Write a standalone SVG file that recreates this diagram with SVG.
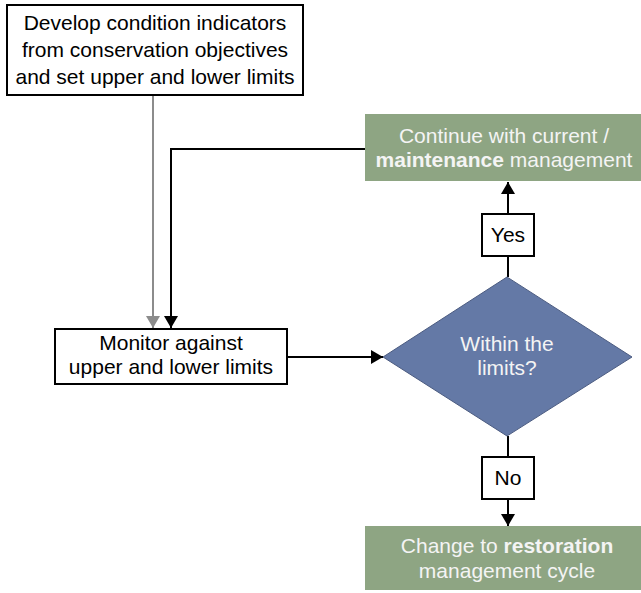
<svg xmlns="http://www.w3.org/2000/svg" width="641" height="593" viewBox="0 0 641 593">
<style>
text{font-family:"Liberation Sans",Arial,sans-serif;font-size:21px;text-anchor:middle}
.box{fill:#fff;stroke:#000;stroke-width:2}
.green{fill:#8ea583}
.wt{fill:#f4f4f4}
.bk{fill:#000}
.b{font-weight:bold}
.ln{fill:none;stroke:#000;stroke-width:2}
.lg{fill:none;stroke:#8c8c8c;stroke-width:2}
</style>
<defs>
<marker id="ab" markerWidth="12" markerHeight="14" refX="12" refY="7" orient="auto" markerUnits="userSpaceOnUse"><path d="M0,0 L12,7 L0,14 Z" fill="#000"/></marker>
<marker id="ag" markerWidth="12" markerHeight="14" refX="12" refY="7" orient="auto" markerUnits="userSpaceOnUse"><path d="M0,0 L12,7 L0,14 Z" fill="#8c8c8c"/></marker>
</defs>
<g id="connectors">
<path class="lg" d="M153,96 V328" marker-end="url(#ag)"/>
<path class="ln" d="M366,149 H171 V328" marker-end="url(#ab)"/>
<path class="ln" d="M288,357 H383" marker-end="url(#ab)"/>
<path class="ln" d="M508,277 V256"/>
<path class="ln" d="M508,214 V182" marker-end="url(#ab)"/>
<path class="ln" d="M508,436 V457"/>
<path class="ln" d="M508,499 V526" marker-end="url(#ab)"/>
</g>
<g id="develop">
<rect class="box" x="7" y="5" width="296" height="90"/>
<text class="bk" x="155" y="30">Develop condition indicators</text>
<text class="bk" x="155" y="57">from conservation objectives</text>
<text class="bk" x="155" y="84">and set upper and lower limits</text>
</g>
<g id="continue">
<rect class="green" x="365" y="114" width="276" height="67"/>
<text class="wt" x="504" y="143">Continue with current /</text>
<text class="wt" x="504" y="167"><tspan class="b">maintenance</tspan> management</text>
</g>
<g id="monitor">
<rect class="box" x="55" y="329" width="232" height="55"/>
<text class="bk" x="171" y="350">Monitor against</text>
<text class="bk" x="171" y="374">upper and lower limits</text>
</g>
<g id="decision">
<path d="M507,277 L632,357 L507,436 L383,357 Z" fill="#6479a6" stroke="#4b5b80" stroke-width="1"/>
<text class="wt" x="507" y="351">Within the</text>
<text class="wt" x="507" y="375">limits?</text>
</g>
<g id="yes">
<rect class="box" x="482" y="214" width="52" height="42"/>
<text class="bk" x="508" y="242">Yes</text>
</g>
<g id="no">
<rect class="box" x="482" y="457" width="52" height="42"/>
<text class="bk" x="508" y="485">No</text>
</g>
<g id="change">
<rect class="green" x="365" y="526" width="276" height="64"/>
<text class="wt" x="507" y="553">Change to <tspan class="b">restoration</tspan></text>
<text class="wt" x="507" y="578">management cycle</text>
</g>
</svg>
